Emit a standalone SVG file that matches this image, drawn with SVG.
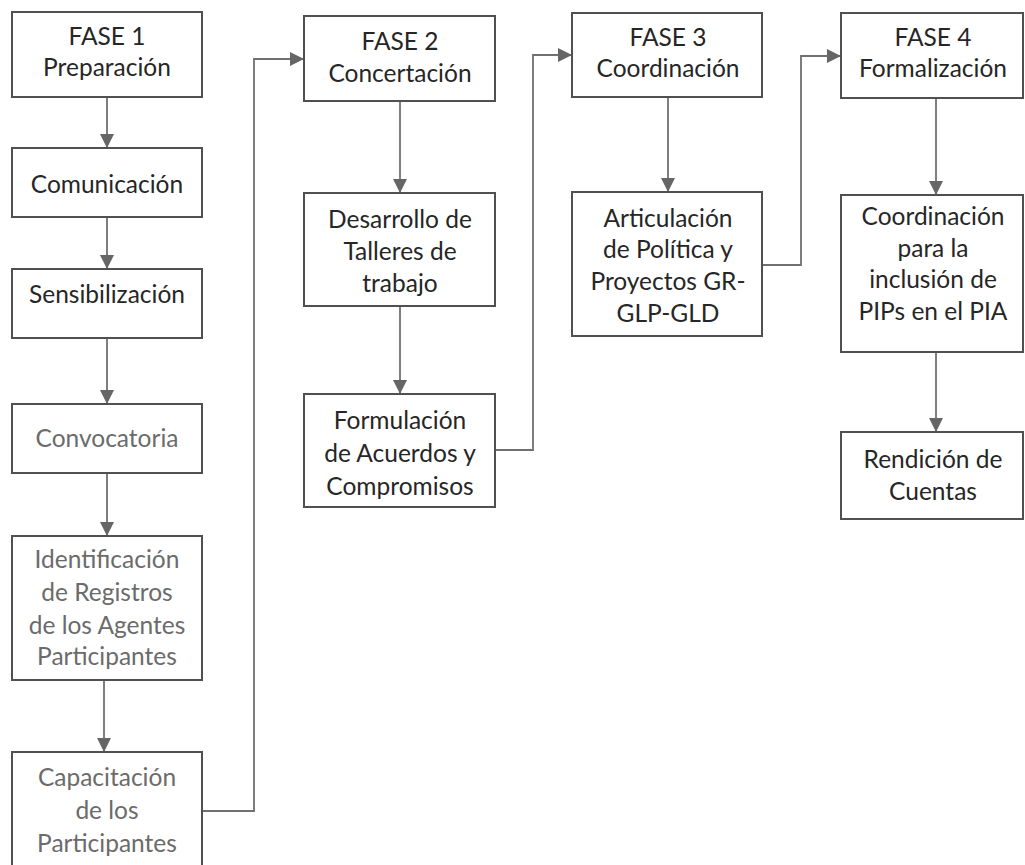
<svg xmlns="http://www.w3.org/2000/svg" width="1025" height="865" viewBox="0 0 1025 865">
<defs>
<marker id="ah" markerWidth="14" markerHeight="14" refX="13" refY="7" orient="auto" markerUnits="userSpaceOnUse">
<path d="M0,0 L14,7 L0,14 Z" fill="#666"/>
</marker>
<style>
.box{fill:#fff;stroke:#505050;stroke-width:2}
.t{font-family:Lato,"Open Sans",sans-serif;font-size:24.5px;text-anchor:middle;fill:#262626}
.g{fill:#6b6b6b}
.c{fill:none;stroke:#707070;stroke-width:1.8}
</style>
</defs>
<rect width="1025" height="865" fill="#fff"/>
<g id="connectors">
<path class="c" d="M107,97 V147" marker-end="url(#ah)"/>
<path class="c" d="M107,217 V268" marker-end="url(#ah)"/>
<path class="c" d="M107,338 V403" marker-end="url(#ah)"/>
<path class="c" d="M107,473 V535" marker-end="url(#ah)"/>
<path class="c" d="M104,680 V751" marker-end="url(#ah)"/>
<path class="c" d="M202,811 H254 V59 H303" marker-end="url(#ah)"/>
<path class="c" d="M400,101 V192" marker-end="url(#ah)"/>
<path class="c" d="M400,306 V393" marker-end="url(#ah)"/>
<path class="c" d="M495,450 H533 V55 H571" marker-end="url(#ah)"/>
<path class="c" d="M668,97 V191" marker-end="url(#ah)"/>
<path class="c" d="M762,265 H801 V56 H840" marker-end="url(#ah)"/>
<path class="c" d="M936,98 V194" marker-end="url(#ah)"/>
<path class="c" d="M936,352 V431" marker-end="url(#ah)"/>
</g>
<g id="fase1">
<rect class="box" x="12" y="12" width="190" height="85"/>
<text class="t" x="107" y="45">FASE 1</text>
<text class="t" x="107" y="76">Preparación</text>
</g>
<g id="comunicacion">
<rect class="box" x="12" y="148" width="190" height="69"/>
<text class="t" x="107" y="193">Comunicación</text>
</g>
<g id="sensibilizacion">
<rect class="box" x="12" y="269" width="190" height="69"/>
<text class="t" x="107" y="303">Sensibilización</text>
</g>
<g id="convocatoria">
<rect class="box" x="12" y="404" width="190" height="69"/>
<text class="t g" x="107" y="447">Convocatoria</text>
</g>
<g id="identificacion">
<rect class="box" x="12" y="536" width="190" height="144"/>
<text class="t g" x="107" y="568">Identificación</text>
<text class="t g" x="107" y="601">de Registros</text>
<text class="t g" x="107" y="634">de los Agentes</text>
<text class="t g" x="107" y="665">Participantes</text>
</g>
<g id="capacitacion">
<rect class="box" x="12" y="752" width="190" height="120"/>
<text class="t g" x="107" y="786">Capacitación</text>
<text class="t g" x="107" y="819">de los</text>
<text class="t g" x="107" y="852">Participantes</text>
</g>
<g id="fase2">
<rect class="box" x="304" y="16" width="191" height="85"/>
<text class="t" x="400" y="50">FASE 2</text>
<text class="t" x="400" y="82">Concertación</text>
</g>
<g id="desarrollo">
<rect class="box" x="304" y="193" width="191" height="113"/>
<text class="t" x="400" y="228">Desarrollo de</text>
<text class="t" x="400" y="260">Talleres de</text>
<text class="t" x="400" y="292">trabajo</text>
</g>
<g id="formulacion">
<rect class="box" x="304" y="394" width="191" height="113"/>
<text class="t" x="400" y="429">Formulación</text>
<text class="t" x="400" y="462">de Acuerdos y</text>
<text class="t" x="400" y="495">Compromisos</text>
</g>
<g id="fase3">
<rect class="box" x="572" y="13" width="190" height="84"/>
<text class="t" x="668" y="46">FASE 3</text>
<text class="t" x="668" y="77">Coordinación</text>
</g>
<g id="articulacion">
<rect class="box" x="572" y="192" width="190" height="144"/>
<text class="t" x="668" y="227">Articulación</text>
<text class="t" x="668" y="258">de Política y</text>
<text class="t" x="668" y="290">Proyectos GR-</text>
<text class="t" x="668" y="322">GLP-GLD</text>
</g>
<g id="fase4">
<rect class="box" x="841" y="13" width="182" height="85"/>
<text class="t" x="933" y="46">FASE 4</text>
<text class="t" x="933" y="77">Formalización</text>
</g>
<g id="coordinacion">
<rect class="box" x="841" y="195" width="182" height="157"/>
<text class="t" x="933" y="225">Coordinación</text>
<text class="t" x="933" y="257">para la</text>
<text class="t" x="933" y="288">inclusión de</text>
<text class="t" x="933" y="320">PIPs en el PIA</text>
</g>
<g id="rendicion">
<rect class="box" x="841" y="432" width="182" height="87"/>
<text class="t" x="933" y="468">Rendición de</text>
<text class="t" x="933" y="500">Cuentas</text>
</g>
</svg>
